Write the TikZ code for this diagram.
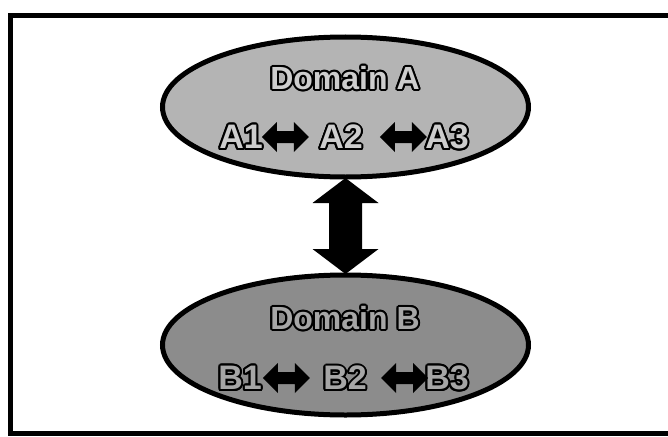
\documentclass[tikz,border=0pt]{standalone}
\usepackage{fontspec}
\setmainfont{Liberation Sans}
\usetikzlibrary{shapes.geometric,calc}
\definecolor{grayA}{HTML}{B4B4B4}
\definecolor{grayB}{HTML}{8C8C8C}
\definecolor{txtA}{HTML}{CDCDCD}
\definecolor{txtB}{HTML}{A6A6A6}
\tikzset{
  frame/.style={draw=black, line width=5pt},
  dom/.style={ellipse, draw=black, line width=5pt, inner sep=0pt, minimum width=366pt, minimum height=140pt},
  lbl/.style={font=\fontsize{32}{33}\selectfont\bfseries, inner sep=0pt},
  rowl/.style={font=\fontsize{34}{35}\selectfont\bfseries, inner sep=0pt},
  arrowfill/.style={fill=black, draw=none},
}
% outlined text: name, position, style, fill colour, text
\newcommand{\otext}[5]{%
  \foreach \ang in {0,22.5,...,337.5}{\path (#2) ++(\ang:2pt) node[#3,text=black]{#5};}
  \node[#3,text=#4] (#1) at (#2) {#5};}
% double arrow: centre coordinate, angle, length, head width, shaft width, head length
\newcommand{\dblarr}[6]{%
  \fill[arrowfill, shift={(#1)}, rotate=#2]
    ({-(#3)/2},0) -- ({-(#3)/2+(#6)},{(#4)/2}) -- ({-(#3)/2+(#6)},{(#5)/2})
    -- ({(#3)/2-(#6)},{(#5)/2}) -- ({(#3)/2-(#6)},{(#4)/2}) -- ({(#3)/2},0)
    -- ({(#3)/2-(#6)},{-(#4)/2}) -- ({(#3)/2-(#6)},{-(#5)/2})
    -- ({-(#3)/2+(#6)},{-(#5)/2}) -- ({-(#3)/2+(#6)},{-(#4)/2}) -- cycle;}
\begin{document}
\begin{tikzpicture}[x=1pt,y=-1pt]
\useasboundingbox (0,0) rectangle (668,436);
\fill[white] (0,0) rectangle (668,436);
\draw[frame] (10.5,16) rectangle (700,433.5);
\node[dom, fill=grayA] (A) at (345.5,107) {};
\node[dom, fill=grayB] (B) at (345.5,345) {};
\coordinate (link) at ($(A.south)!0.5!(B.north)$);
\dblarr{link}{90}{96}{66}{33}{25}
\otext{dA}{345,78}{lbl}{txtA}{Domain A}
\otext{a1}{241,137}{rowl}{txtA}{A1}
\otext{a2}{341,137}{rowl}{txtA}{A2}
\otext{a3}{447,137}{rowl}{txtA}{A3}
\coordinate (a12) at ($(a1.east)!0.4!(a2.west)$);
\coordinate (a23) at ($(a2.east)!0.65!(a3.west)$);
\dblarr{a12}{0}{47}{30}{12}{15}
\dblarr{a23}{0}{47}{30}{12}{15}
\otext{dB}{345,318}{lbl}{txtB}{Domain B}
\otext{b1}{240,378}{rowl}{txtB}{B1}
\otext{b2}{345,378}{rowl}{txtB}{B2}
\otext{b3}{447,378}{rowl}{txtB}{B3}
\coordinate (b12) at ($(b1.east)!0.4!(b2.west)$);
\coordinate (b23) at ($(b2.east)!0.65!(b3.west)$);
\dblarr{b12}{0}{47}{30}{12}{15}
\dblarr{b23}{0}{47}{30}{12}{15}
\end{tikzpicture}
\end{document}
